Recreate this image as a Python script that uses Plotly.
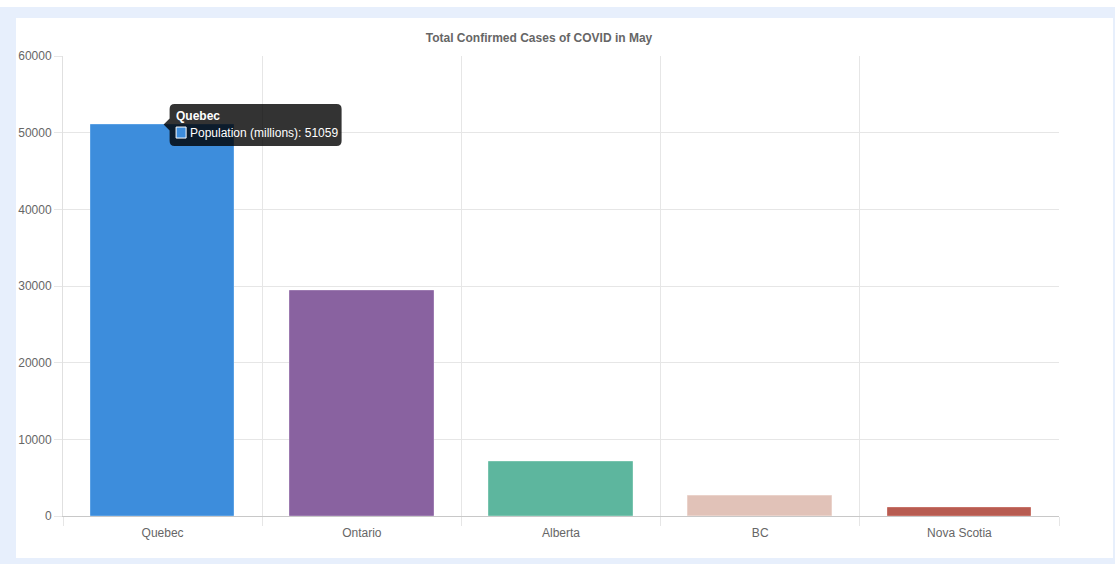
import plotly.graph_objects as go

categories = ["Quebec", "Ontario", "Alberta", "BC", "Nova Scotia"]
cases = [51059, 29300, 7020, 2600, 1060]
bar_colors = ["#3d8ddc", "#8962a0", "#5db69e", "#e1c2b8", "#b85c51"]
border_colors = ["#5aa0e4", "#9c7ab0", "#78c4ae", "#ead2ca", "#c77268"]
y_ticks = [0, 10000, 20000, 30000, 40000, 50000, 60000]
title_text = "Total Confirmed Cases of COVID in May"
series_label = "Population (millions)"
tooltip_idx = 0

W, H = 1115, 564
ML, MR, MT, MB = 63, 56, 56, 48
PW, PH = W - ML - MR, H - MT - MB


def px_to_paper_x(px):
    return (px - ML) / PW


def px_to_paper_y(py):
    return (H - MB - py) / PH


font_family = "Liberation Sans, Arial, Helvetica, sans-serif"

fig = go.Figure()
fig.add_trace(go.Bar(
    x=categories,
    y=cases,
    marker=dict(color=bar_colors, line=dict(color=border_colors, width=1)),
    width=0.72,
    name=series_label,
    hoverinfo="skip",
))

shapes = []
# white panel
shapes.append(dict(type="rect", xref="paper", yref="paper",
                   x0=px_to_paper_x(16), x1=px_to_paper_x(1113),
                   y0=px_to_paper_y(558), y1=px_to_paper_y(18),
                   fillcolor="white", line=dict(width=0), layer="below"))
# top white strip
shapes.append(dict(type="rect", xref="paper", yref="paper",
                   x0=px_to_paper_x(0), x1=px_to_paper_x(W),
                   y0=px_to_paper_y(7), y1=px_to_paper_y(0),
                   fillcolor="white", line=dict(width=0), layer="below"))

# tooltip box with caret, anchored at the bar top
tcat = categories[tooltip_idx]
tval = cases[tooltip_idx]
L, R, T, B, r = 7, 179, 20.5, -21.5, 5
path = (f"M {L},{T - r} Q {L},{T} {L + r},{T} L {R - r},{T} Q {R},{T} {R},{T - r} "
        f"L {R},{B + r} Q {R},{B} {R - r},{B} L {L + r},{B} Q {L},{B} {L},{B + r} "
        f"L {L},-6 L 1,0 L {L},6 Z")
shapes.append(dict(type="path", xref="x", yref="y",
                   xsizemode="pixel", ysizemode="pixel",
                   xanchor=tooltip_idx, yanchor=tval,
                   path=path, fillcolor="rgba(0,0,0,0.8)",
                   line=dict(width=0), layer="above"))
shapes.append(dict(type="rect", xref="x", yref="y",
                   xsizemode="pixel", ysizemode="pixel",
                   xanchor=tooltip_idx, yanchor=tval,
                   x0=13.5, x1=23.5, y0=-2.5, y1=-13.5,
                   fillcolor=bar_colors[tooltip_idx],
                   line=dict(color="white", width=1), layer="above"))

annotations = [
    dict(x=tooltip_idx, y=tval, xref="x", yref="y", xanchor="left", yanchor="middle",
         xshift=11, yshift=9, showarrow=False,
         text=f"<b>{tcat}</b>", font=dict(family=font_family, size=12, color="white")),
    dict(x=tooltip_idx, y=tval, xref="x", yref="y", xanchor="left", yanchor="middle",
         xshift=25, yshift=-8, showarrow=False,
         text=f"{series_label}: {tval}", font=dict(family=font_family, size=12, color="white")),
]

fig.update_layout(
    width=W, height=H,
    margin=dict(l=ML, r=MR, t=MT, b=MB, pad=0),
    paper_bgcolor="#e7effc",
    plot_bgcolor="white",
    showlegend=False,
    hovermode=False,
    bargap=0,
    title=dict(text=f"<b>{title_text}</b>", x=px_to_paper_x(539), xref="paper",
               xanchor="center", y=1 - 38 / H, yanchor="middle",
               font=dict(family=font_family, size=12, color="#666666")),
    xaxis=dict(
        type="category",
        tickson="boundaries",
        showgrid=True, gridcolor="#e6e6e6", gridwidth=1,
        ticks="outside", ticklen=9, tickcolor="#e6e6e6",
        ticklabelstandoff=6,
        showline=True, linecolor="#c8c8c8", linewidth=1,
        tickfont=dict(family=font_family, size=12, color="#666666"),
        fixedrange=True,
    ),
    yaxis=dict(
        range=[0, 60000],
        tickvals=y_ticks,
        ticktext=[str(v) for v in y_ticks],
        showgrid=True, gridcolor="#e6e6e6", gridwidth=1,
        zeroline=False,
        ticks="outside", ticklen=8, tickcolor="#e6e6e6",
        showline=True, linecolor="#e0e0e0", linewidth=1,
        tickfont=dict(family=font_family, size=12, color="#666666"),
        fixedrange=True,
    ),
    shapes=shapes,
    annotations=annotations,
)

fig.write_html(
    "out.html",
    config={"displayModeBar": False},
    post_script="document.body.style.margin='0';document.body.style.overflow='hidden';",
)
